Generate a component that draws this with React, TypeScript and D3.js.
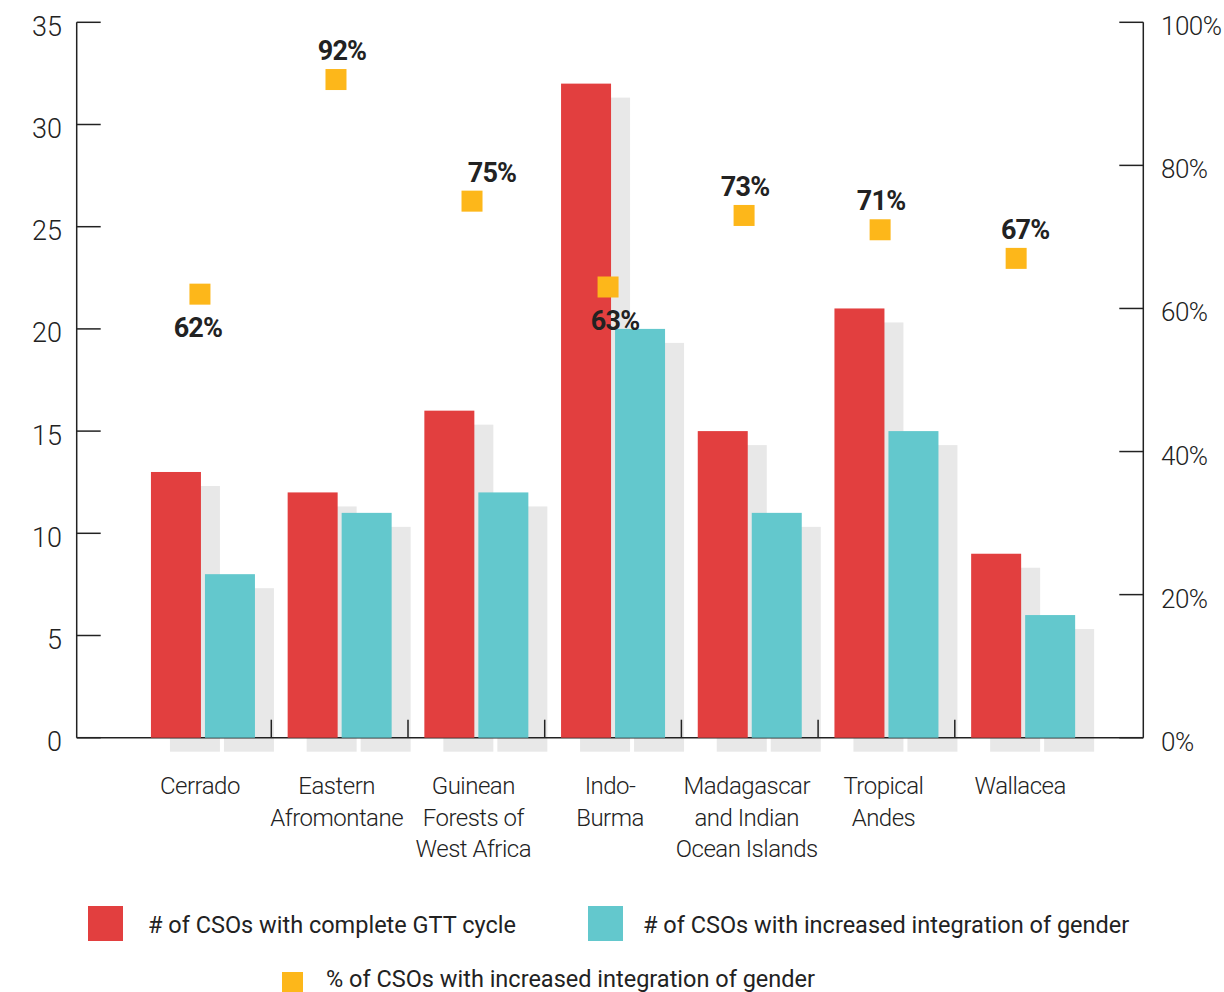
import React from "react";
import * as d3 from "d3";

const categories = [
  ["Cerrado"],
  ["Eastern", "Afromontane"],
  ["Guinean", "Forests of", "West Africa"],
  ["Indo-", "Burma"],
  ["Madagascar", "and Indian", "Ocean Islands"],
  ["Tropical", "Andes"],
  ["Wallacea"],
];
const categoryKeys = categories.map((c) => c.join(" "));
const completeGTT = [13, 12, 16, 32, 15, 21, 9];
const increasedGender = [8, 11, 12, 20, 11, 15, 6];
const pctGender = [62, 92, 75, 63, 73, 71, 67];
const leftTicks = [0, 5, 10, 15, 20, 25, 30, 35];
const rightTicks = [0, 20, 40, 60, 80, 100];
const seriesNames = [
  "# of CSOs with complete GTT cycle",
  "# of CSOs with increased integration of gender",
  "% of CSOs with increased integration of gender",
];

// label placement (annotation layout)
const labelBelow = [true, false, false, true, false, false, false];
const labelNudge = [-2, 6, 20, 7, 1, 1, 9];

const RED = "#E23F3F";
const TEAL = "#63C8CD";
const YELLOW = "#FDB71A";
const SHADOW = "#E8E8E8";
const INK = "#222222";
const FONT = "Roboto, 'Noto Sans', sans-serif";

export default function App() {
  const W = 1224;
  const H = 992;
  const axisL = 76.7;
  const axisR = 1143.3;
  const top = 22.3;
  const base = 737.7;

  const y = d3.scaleLinear().domain([0, 35]).range([base, top]);
  const yPct = d3.scaleLinear().domain([0, 100]).range([base, top]);
  const x0 = d3.scaleBand<string>().domain(categoryKeys).range([134.6, 1091.5]);
  const bw = x0.bandwidth();
  const x1 = d3
    .scaleBand<number>()
    .domain([0, 1])
    .range([bw / 2 - 52, bw / 2 + 52])
    .paddingInner(0.0741);
  const xm = d3
    .scalePoint<string>()
    .domain(categoryKeys)
    .range([x0(categoryKeys[0])! + bw / 2 - 3, x0(categoryKeys[6])! + bw / 2 - 7]);

  const series = [completeGTT, increasedGender];
  const colors = [RED, TEAL];
  const sdx = 19;
  const sdy = 14;
  const msize = 21;

  return (
    <svg
      width={W}
      height={H}
      style={{ position: "absolute", left: 0, top: 0, display: "block", background: "#fff" }}
      fontFamily={FONT}
    >
      {/* shadows */}
      {categoryKeys.map((c, i) =>
        series.map((s, k) => (
          <rect
            key={`sh-${i}-${k}`}
            x={x0(c)! + x1(k)! + sdx}
            y={y(s[i]) + sdy}
            width={x1.bandwidth()}
            height={base - y(s[i])}
            fill={SHADOW}
          />
        ))
      )}
      {/* baseline */}
      <line x1={axisL} x2={axisR} y1={base} y2={base} stroke={INK} strokeWidth={1.5} />
      {/* category separators */}
      {categoryKeys.slice(0, -1).map((c) => (
        <line
          key={`sep-${c}`}
          x1={x0(c)! + bw}
          x2={x0(c)! + bw}
          y1={base - 18}
          y2={base}
          stroke={INK}
          strokeWidth={1.5}
        />
      ))}
      {/* bars */}
      {categoryKeys.map((c, i) =>
        series.map((s, k) => (
          <rect
            key={`b-${i}-${k}`}
            x={x0(c)! + x1(k)!}
            y={y(s[i])}
            width={x1.bandwidth()}
            height={base - y(s[i])}
            fill={colors[k]}
          />
        ))
      )}
      {/* left axis */}
      <line x1={axisL} x2={axisL} y1={top} y2={base} stroke={INK} strokeWidth={1.5} />
      {leftTicks.map((t) => (
        <g key={`lt-${t}`}>
          <line x1={axisL} x2={axisL + 24} y1={y(t)} y2={y(t)} stroke={INK} strokeWidth={1.5} />
          <text
            x={62}
            y={y(t) + 13.5}
            textAnchor="end"
            fontSize={27}
            fontWeight={300}
            fill={INK}
          >
            {t}
          </text>
        </g>
      ))}
      {/* right axis */}
      <line x1={axisR} x2={axisR} y1={top} y2={base} stroke={INK} strokeWidth={1.5} />
      {rightTicks.map((t) => (
        <g key={`rt-${t}`}>
          <line x1={axisR - 24} x2={axisR} y1={yPct(t)} y2={yPct(t)} stroke={INK} strokeWidth={1.5} />
          <text
            x={1161}
            y={yPct(t) + 13}
            textAnchor="start"
            fontSize={26}
            fontWeight={300}
            fill={INK}
            letterSpacing={-0.5}
          >
            {`${t}%`}
          </text>
        </g>
      ))}
      {/* category labels */}
      {categories.map((lines, i) => (
        <text
          key={`cl-${i}`}
          textAnchor="middle"
          fontSize={24}
          fontWeight={300}
          fill={INK}
          letterSpacing={-0.5}
        >
          {lines.map((ln, j) => (
            <tspan key={j} x={x0(categoryKeys[i])! + bw / 2 - 3} y={794 + j * 31.5}>
              {ln}
            </tspan>
          ))}
        </text>
      ))}
      {/* percent markers */}
      {categoryKeys.map((c, i) => {
        const cx = xm(c)!;
        const cy = yPct(pctGender[i]);
        return (
          <g key={`m-${i}`}>
            <rect
              x={cx - msize / 2}
              y={cy - msize / 2}
              width={msize}
              height={msize}
              fill={YELLOW}
            />
            <text
              x={cx + labelNudge[i]}
              y={labelBelow[i] ? cy + 43 : cy - 19.5}
              textAnchor="middle"
              fontSize={27}
              fontWeight={700}
              fill={INK}
              letterSpacing={-0.8}
            >
              {`${pctGender[i]}%`}
            </text>
          </g>
        );
      })}
      {/* legend */}
      <rect x={88} y={906} width={35} height={35} fill={RED} />
      <text x={148} y={933} fontSize={23.5} fontWeight={400} fill={INK}>
        {seriesNames[0]}
      </text>
      <rect x={588} y={906} width={35} height={35} fill={TEAL} />
      <text x={643} y={933} fontSize={23.5} fontWeight={400} fill={INK}>
        {seriesNames[1]}
      </text>
      <rect x={282} y={972} width={21} height={21} fill={YELLOW} />
      <text x={326} y={987} fontSize={23.5} fontWeight={400} fill={INK}>
        {seriesNames[2]}
      </text>
    </svg>
  );
}
